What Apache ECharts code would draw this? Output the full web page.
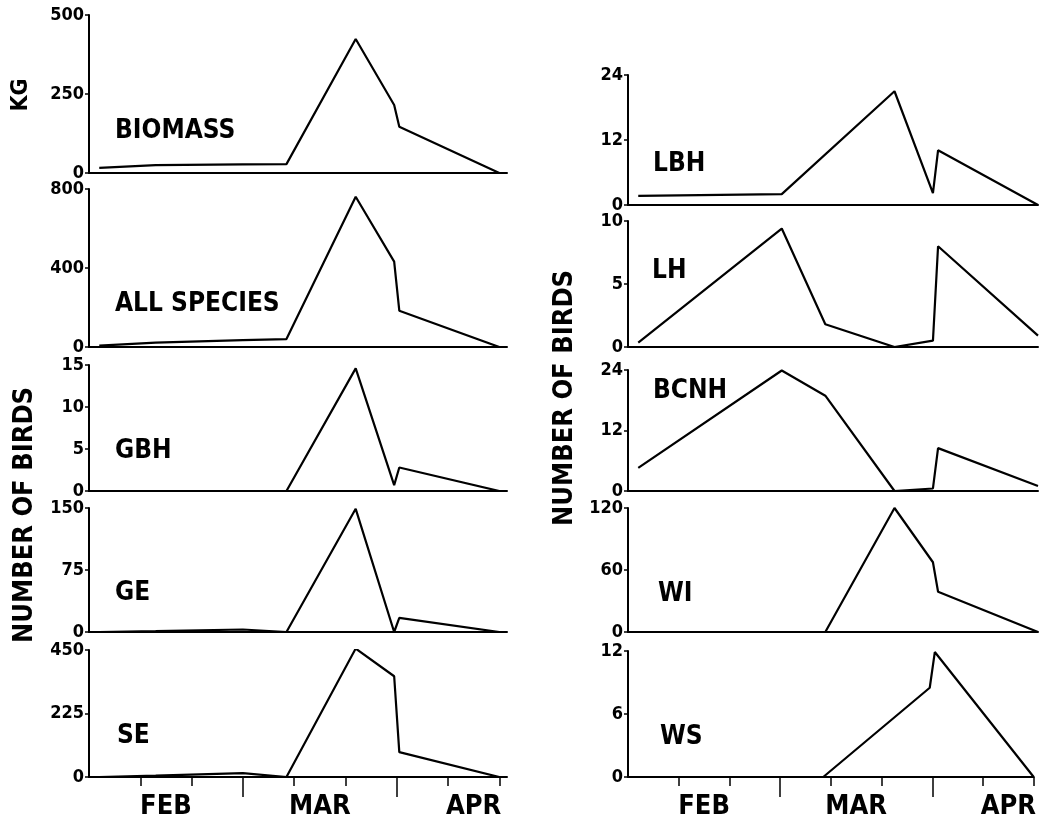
<!DOCTYPE html>
<html>
<head>
<meta charset="utf-8">
<script src="https://cdn.jsdelivr.net/npm/echarts@6/dist/echarts.min.js"></script>
<style>
  html, body { margin: 0; padding: 0; background: #fff; }
  #chart { width: 1039px; height: 823px; }
</style>
</head>
<body>
<div id="chart"></div>
<script>
// survey dates, counted in days from 1 Feb
const surveyDays = [2, 13, 30, 38.5, 52, 59.5, 60.5, 80];
const shortTicks = [10, 20, 40, 50, 70, 80];
const monthBreaks = [30, 60];
const monthLabelDays = [15, 45, 75];
const monthNames = ['FEB', 'MAR', 'APR'];

// left column
const biomass    = [16, 25, 27, 28, 424, 215, 146, 0];
const allSpecies = [7, 22, 35, 40, 761, 432, 184, 0];
const gbh        = [0, 0, 0, 0, 14.6, 0.7, 2.8, 0];
const ge         = [0, 1, 3, 0, 149, 0, 17, 0];
const se         = [0, 5, 14, 0, 455, 357, 88, 0];
// right column (null = no visible bend there)
const lbh  = [1.7, null, 2.0, null, 21, 2.2, 10.1, 0];
const lh   = [0.35, null, 9.4, 1.8, 0, 0.5, 8.0, 0.9];
const bcnh = [4.6, null, 23.9, 18.9, 0, 0.5, 8.5, 1];
const wi   = [0, null, null, 0, 120, 67.5, 39, 0];
const ws   = [0, null, null, 0, null, 8.5, 11.9, 0];

const FONT = "'Liberation Sans Narrow', 'DejaVu Sans Condensed', sans-serif";

const panels = [
  { label: 'BIOMASS', values: biomass, max: 500, step: 250, col: 0, top: 15, h: 158, lx: 115, ly: 132 },
  { label: 'ALL SPECIES', values: allSpecies, max: 800, step: 400, col: 0, top: 189, h: 158, lx: 115, ly: 305 },
  { label: 'GBH', values: gbh, max: 15, step: 5, col: 0, top: 365, h: 126, lx: 115, ly: 452 },
  { label: 'GE', values: ge, max: 150, step: 75, col: 0, top: 508, h: 124, lx: 115, ly: 594 },
  { label: 'SE', values: se, max: 450, step: 225, col: 0, top: 650, h: 127, lx: 117, ly: 737, bottom: true },
  { label: 'LBH', values: lbh, max: 24, step: 12, col: 1, top: 75, h: 130, lx: 653, ly: 165 },
  { label: 'LH', values: lh, max: 10, step: 5, col: 1, top: 221, h: 126, lx: 652, ly: 272 },
  { label: 'BCNH', values: bcnh, max: 24, step: 12, col: 1, top: 370, h: 121, lx: 653, ly: 392 },
  { label: 'WI', values: wi, max: 120, step: 60, col: 1, top: 508, h: 124, lx: 658, ly: 595 },
  { label: 'WS', values: ws, max: 12, step: 6, col: 1, top: 651, h: 126, lx: 660, ly: 738, bottom: true },
];

const cols = [
  { left: 89, width: 418, max: 81.5 },
  { left: 628, width: 410, max: 80 },
];

const black = '#000';
const grid = [];
const xAxis = [];
const yAxis = [];
const series = [];
const graphic = [];

panels.forEach((p, i) => {
  const c = cols[p.col];
  grid.push({ left: c.left, width: c.width, top: p.top, height: p.h });

  yAxis.push({
    type: 'value',
    gridIndex: i,
    min: 0,
    max: p.max,
    interval: p.step,
    axisLine: { show: true, lineStyle: { color: black, width: 2 } },
    axisTick: { show: true, length: 4, lineStyle: { color: black, width: 1.5 } },
    axisLabel: { color: black, fontFamily: FONT, fontWeight: 'bold', fontSize: 18, margin: 5 },
    splitLine: { show: false },
  });

  xAxis.push({
    type: 'value',
    gridIndex: i,
    min: 0,
    max: c.max,
    position: 'bottom',
    axisLine: { show: true, onZero: false, lineStyle: { color: black, width: 2 } },
    axisTick: p.bottom
      ? { show: true, customValues: shortTicks, length: 9, lineStyle: { color: black, width: 1.5 } }
      : { show: false },
    axisLabel: p.bottom
      ? {
        show: true,
        customValues: monthLabelDays,
        formatter: v => monthNames[monthLabelDays.indexOf(v)],
        color: black,
        fontFamily: FONT,
        fontWeight: 'bold',
        fontSize: 27,
        margin: 16,
      }
      : { show: false },
    splitLine: { show: false },
  });

  series.push({
    type: 'line',
    xAxisIndex: xAxis.length - 1,
    yAxisIndex: i,
    symbol: 'none',
    lineStyle: { color: black, width: 2.2 },
    data: surveyDays.map((d, k) => [d, p.values[k]]).filter(d => d[1] !== null),
  });

  graphic.push({
    type: 'text',
    left: p.lx,
    top: p.ly - 14,
    style: { text: p.label, font: `bold 26px ${FONT}`, fill: black },
  });
});

// long month-break ticks on the two bottom panels
panels.forEach((p, i) => {
  if (!p.bottom) return;
  xAxis.push({
    type: 'value',
    gridIndex: i,
    min: 0,
    max: cols[p.col].max,
    position: 'bottom',
    axisLine: { show: false, onZero: false },
    axisTick: { show: true, customValues: monthBreaks, length: 20, lineStyle: { color: black, width: 1.5 } },
    axisLabel: { show: false },
    splitLine: { show: false },
  });
});

// axis names
const vText = (x, y, text, size) => ({
  type: 'text', x, y, rotation: Math.PI / 2,
  style: {
    text, font: `bold ${size}px ${FONT}`, fill: black,
    textAlign: 'center', textVerticalAlign: 'middle', align: 'center', verticalAlign: 'middle',
  },
});
graphic.push(
  vText(21, 95, 'KG', 23),
  vText(25, 515, 'NUMBER OF BIRDS', 27),
  vText(565, 398, 'NUMBER OF BIRDS', 27),
);

const chart = echarts.init(document.getElementById('chart'), null, { renderer: 'canvas' });
chart.setOption({
  animation: false,
  backgroundColor: '#fff',
  grid,
  xAxis,
  yAxis,
  series,
  graphic,
});
</script>
</body>
</html>
